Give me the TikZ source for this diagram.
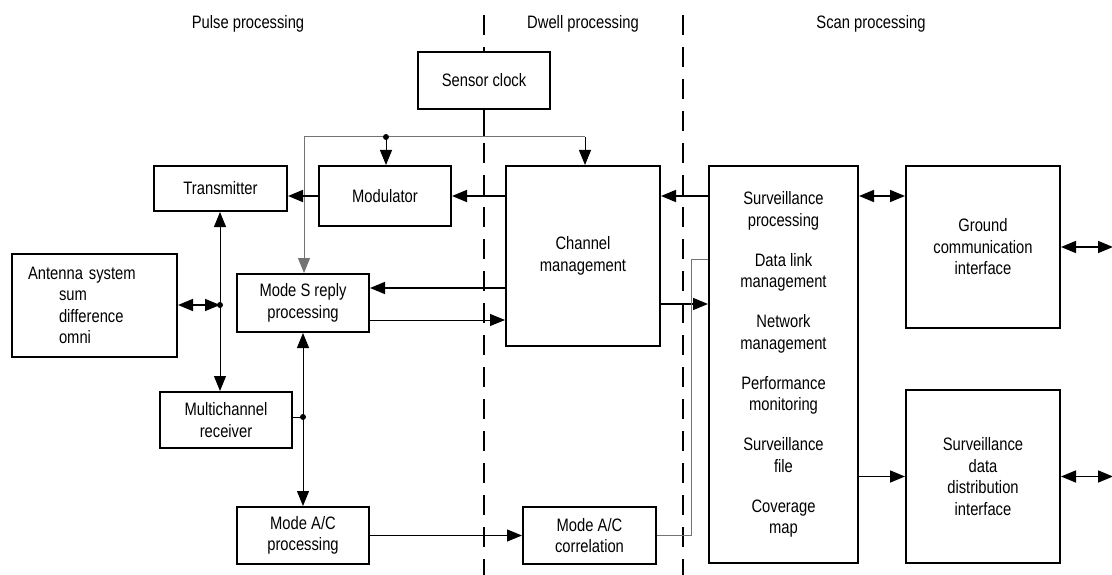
\documentclass[tikz,border=0pt]{standalone}
\usepackage{fontspec}
\setmainfont{Liberation Sans}[FakeStretch=0.82]
\usetikzlibrary{arrows.meta}
\tikzset{
  txt/.style={font=\fontsize{18}{21.5}\selectfont},
  box/.style={txt, draw, line width=2pt, fill=white, align=center, inner sep=2pt},
  arr/.tip={Triangle[length=15pt,width=12pt]},
  main/.style={line width=1.6pt},
  thinline/.style={line width=1pt},
  grayline/.style={line width=1pt, draw=black!55},
  sep/.style={line width=2pt, dash pattern=on 20pt off 12pt},
  dot/.style={circle, fill, inner sep=0pt, minimum size=6pt}
}
\begin{document}
\begin{tikzpicture}[x=1pt,y=-1pt]
\useasboundingbox (0,0) rectangle (1112,575);

% section separators
\coordinate (d1t) at (484,15);
\coordinate (d1b) at (484,578);
\coordinate (d2t) at (683,15);
\coordinate (d2b) at (683,578);
\draw[sep] (d1t) -- (d1b);
\draw[sep] (d2t) -- (d2b);

% section labels
\node[txt, anchor=base] (lpulse) at (248,29) {Pulse processing};
\node[txt, anchor=base] (ldwell) at (583,29) {Dwell processing};
\node[txt, anchor=base] (lscan) at (871,29) {Scan processing};

% boxes
\node[box, minimum width=132pt, minimum height=57pt] (clock) at (484,80.5) {Sensor clock};
\node[box, minimum width=133pt, minimum height=45pt] (tx) at (220.5,188.5) {Transmitter};
\node[box, minimum width=132pt, minimum height=60pt] (mod) at (385,196) {Modulator};
\node[box, minimum width=154pt, minimum height=180pt] (cm) at (583,256) {Channel\\management};
\node[box, minimum width=149pt, minimum height=397pt] (surv) at (783.5,364.5)
  {Surveillance\\processing\\[18.5pt]Data link\\management\\[18.5pt]Network\\management\\[18.5pt]Performance\\monitoring\\[18.5pt]Surveillance\\file\\[18.5pt]Coverage\\map};
\node[box, minimum width=154pt, minimum height=162pt] (ground) at (983,247) {Ground\\communication\\interface};
\node[box, align=left, text width=133pt, inner xsep=16pt, minimum height=103pt] (ant) at (94.5,305.5)
  {Antenna system\\\hspace*{31pt}sum\\\hspace*{31pt}difference\\\hspace*{31pt}omni};
\node[box, minimum width=132pt, minimum height=58pt] (modes) at (303,303) {Mode S reply\\processing};
\node[box, minimum width=132pt, minimum height=56pt] (multi) at (226,420) {Multichannel\\receiver};
\node[box, minimum width=132pt, minimum height=57pt] (acp) at (303,535.5) {Mode A/C\\processing};
\node[box, minimum width=133pt, minimum height=57pt] (corr) at (589.5,535.5) {Mode A/C\\correlation};
\node[box, minimum width=154pt, minimum height=173pt] (sddi) at (983,476.5) {Surveillance\\data\\distribution\\interface};

% helper coordinates
\coordinate (ctop) at (484,137);
\coordinate (jl) at (304,137);
\coordinate (jm) at (386,137);
\coordinate (jr) at (585,137);
\coordinate (y196) at (0,196);
\coordinate (y288) at (0,288);
\coordinate (y304) at (0,304);
\coordinate (y320) at (0,320);
\coordinate (ad) at (220,305);
\coordinate (md) at (303,417);
\coordinate (lb) at (691,535.5);
\coordinate (lt) at (691,259);
\coordinate (gout) at (1113,247);
\coordinate (sout) at (1113,476.5);

% clock distribution
\draw[main] (clock.south) -- (ctop);
\draw[grayline] (jl) -- (jr);
\draw[thinline,-arr] (jr) -- (jr |- cm.north);
\draw[thinline,-arr] (jm) -- (jm |- mod.north);
\draw[grayline,-arr] (jl) -- (jl |- modes.north);
\node[dot] (dm) at (jm) {};

% main flows
\draw[main,-arr] (cm.west |- y196) -- (mod.east |- y196);
\draw[main,-arr] (mod.west |- y196) -- (tx.east |- y196);
\draw[main,-arr] (surv.west |- y196) -- (cm.east |- y196);
\draw[main,arr-arr] (surv.east |- y196) -- (ground.west |- y196);
\draw[main,arr-arr] (ground.east) -- (gout);
\draw[main,-arr] (surv.east |- sddi.west) -- (sddi.west);
\draw[main,arr-arr] (sddi.east) -- (sout);
\draw[main,-arr] (cm.east |- y304) -- (surv.west |- y304);
\draw[main,-arr] (cm.west |- y288) -- (modes.east |- y288);
\draw[thinline,-arr] (modes.east |- y320) -- (cm.west |- y320);

% antenna / receiver
\draw[main,arr-arr] (ant.east |- ad) -- (ad);
\draw[thinline,arr-arr] (ad |- tx.south) -- (ad |- multi.north);
\node[dot] (da) at (ad) {};
\draw[thinline] (multi.east |- md) -- (md);
\draw[thinline,arr-arr] (md |- modes.south) -- (md |- acp.north);
\node[dot] (dmd) at (md) {};

% mode A/C
\draw[thinline,-arr] (acp.east) -- (corr.west);
\draw[grayline] (corr.east) -- (lb) -- (lt) -- (surv.west |- lt);
\end{tikzpicture}
\end{document}
